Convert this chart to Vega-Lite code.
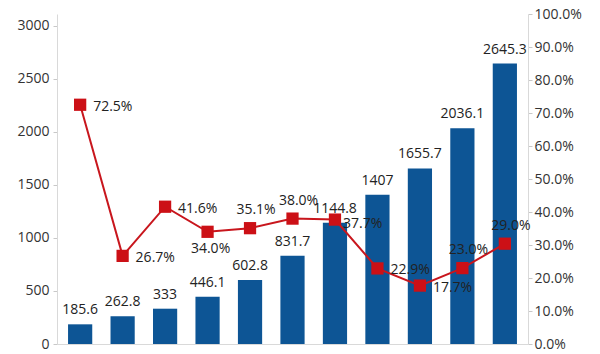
{
  "$schema": "https://vega.github.io/schema/vega-lite/v6.json",
  "width": 471,
  "height": 330,
  "autosize": {"type": "none"},
  "padding": {"left": 57, "top": 14, "right": 72, "bottom": 10},
  "background": "white",
  "config": {"view": {"stroke": null}, "font": "Open Sans"},
  "data": {
    "values": [
      {"period": "1", "output": 185.6, "rate": 72.5, "rate_label": "72.5%"},
      {"period": "2", "output": 262.8, "rate": 26.7, "rate_label": "26.7%"},
      {"period": "3", "output": 333, "rate": 41.6, "rate_label": "41.6%"},
      {"period": "4", "output": 446.1, "rate": 34.0, "rate_label": "34.0%"},
      {"period": "5", "output": 602.8, "rate": 35.1, "rate_label": "35.1%"},
      {"period": "6", "output": 831.7, "rate": 38.0, "rate_label": "38.0%"},
      {"period": "7", "output": 1144.8, "rate": 37.7, "rate_label": "37.7%"},
      {"period": "8", "output": 1407, "rate": 22.9, "rate_label": "22.9%"},
      {"period": "9", "output": 1655.7, "rate": 17.7, "rate_label": "17.7%"},
      {"period": "10", "output": 2036.1, "rate": 23.0, "rate_label": "23.0%"},
      {"period": "11", "output": 2645.3, "rate": 30.4, "rate_label": "29.0%"}
    ]
  },
  "encoding": {
    "x": {
      "field": "period",
      "type": "ordinal",
      "sort": null,
      "scale": {"paddingInner": 0.43, "paddingOuter": 0.26},
      "axis": {"labels": false, "ticks": false, "title": null, "domainColor": "#d9d9d9", "domainWidth": 1}
    }
  },
  "layer": [
    {
      "encoding": {
        "y": {
          "field": "output",
          "type": "quantitative",
          "scale": {"domain": [0, 3113], "nice": false},
          "axis": {
            "orient": "left",
            "title": null,
            "grid": false,
            "format": "d",
            "values": [0, 500, 1000, 1500, 2000, 2500, 3000],
            "labelFontSize": 14,
            "labelColor": "#333333",
            "labelPadding": 4,
            "tickSize": 4,
            "tickColor": "#c8c8c8",
            "domainColor": "#d9d9d9"
          }
        }
      },
      "layer": [
        {"mark": {"type": "bar", "color": "#0d5595"}},
        {
          "mark": {"type": "text", "baseline": "bottom", "dy": -7, "fontSize": 14, "color": "#222222"},
          "encoding": {"text": {"field": "output", "type": "nominal"}}
        }
      ]
    },
    {
      "encoding": {
        "y": {
          "field": "rate",
          "type": "quantitative",
          "scale": {"domain": [0, 100], "nice": false},
          "axis": {
            "orient": "right",
            "title": null,
            "grid": false,
            "values": [0, 10, 20, 30, 40, 50, 60, 70, 80, 90, 100],
            "labelExpr": "format(datum.value, '.1f') + '%'",
            "labelFontSize": 14,
            "labelColor": "#333333",
            "labelPadding": 2,
            "tickSize": 4,
            "tickColor": "#c8c8c8",
            "domainColor": "#d9d9d9"
          }
        }
      },
      "layer": [
        {"mark": {"type": "line", "color": "#c8161d", "strokeWidth": 2}},
        {"mark": {"type": "point", "shape": "square", "filled": true, "size": 150, "color": "#cc1016", "opacity": 1}},
        {
          "transform": [{"filter": {"field": "period", "oneOf": ["1", "2", "3", "8", "9"]}}],
          "mark": {"type": "text", "align": "left", "baseline": "middle", "dx": 13, "dy": 2, "fontSize": 14, "color": "#222222"},
          "encoding": {"text": {"field": "rate_label"}}
        },
        {
          "transform": [{"filter": {"field": "period", "oneOf": ["7"]}}],
          "mark": {"type": "text", "align": "left", "baseline": "middle", "dx": 8, "dy": 4, "fontSize": 14, "color": "#222222"},
          "encoding": {"text": {"field": "rate_label"}}
        },
        {
          "transform": [{"filter": {"field": "period", "oneOf": ["4"]}}],
          "mark": {"type": "text", "align": "center", "baseline": "middle", "dx": 3, "dy": 17, "fontSize": 14, "color": "#222222"},
          "encoding": {"text": {"field": "rate_label"}}
        },
        {
          "transform": [{"filter": {"field": "period", "oneOf": ["5", "6", "10", "11"]}}],
          "mark": {"type": "text", "align": "center", "baseline": "middle", "dx": 6, "dy": -18, "fontSize": 14, "color": "#222222"},
          "encoding": {"text": {"field": "rate_label"}}
        }
      ]
    }
  ],
  "resolve": {"scale": {"y": "independent"}}
}
